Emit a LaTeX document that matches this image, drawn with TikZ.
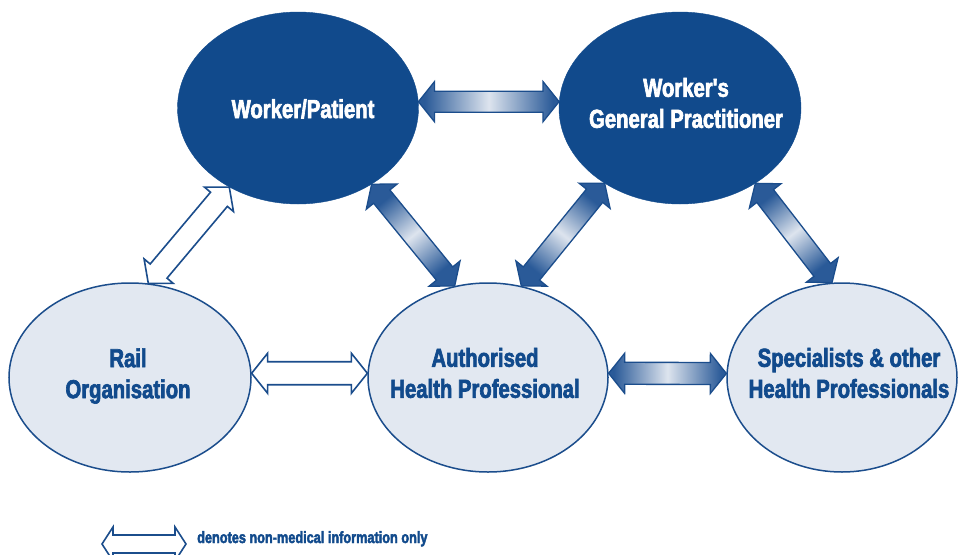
\documentclass[tikz,border=0pt]{standalone}
\usepackage{fontspec}
\newfontfamily\labelfont{Liberation Sans}[FakeStretch=0.78, FakeBold=2.5]
\usetikzlibrary{shapes.geometric,calc}

\definecolor{navy}{HTML}{114A8C}
\definecolor{paleblue}{HTML}{E2E8F1}
\definecolor{lineblue}{HTML}{1B4D8C}
\definecolor{arrowdark}{HTML}{2A5A98}
\definecolor{arrowlight}{HTML}{DDE4EE}

% gradient running along the arrow: dark heads, pale middle
\pgfdeclarehorizontalshading{arrowfill}{100bp}{color(0bp)=(arrowdark); color(27bp)=(arrowdark); color(50bp)=(arrowlight); color(73bp)=(arrowdark); color(100bp)=(arrowdark)}

\pgfdeclarelayer{paper}
\pgfdeclarelayer{arrows}
\pgfsetlayers{paper,arrows,main}

\tikzset{
  darkbubble/.style={ellipse, fill=navy, draw=navy, inner sep=0pt},
  lightbubble/.style={ellipse, fill=paleblue, draw=lineblue, line width=1.5pt, inner sep=0pt},
  bubbletext/.style={text=white, font=\labelfont\bfseries\fontsize{26}{31}\selectfont, align=center, inner sep=0pt},
  bubbletextdark/.style={bubbletext, text=navy},
  legendtext/.style={text=navy, font=\labelfont\bfseries\fontsize{16.3}{19}\selectfont, inner sep=0pt},
  medlink/.style={shading=arrowfill, shading angle=\linkang, draw=lineblue, line width=1.3pt, line join=miter},
  infolink/.style={fill=white, draw=lineblue, line width=1.6pt, line join=miter},
}

% double-headed block arrow between two points:
% [style]{from}{to}{head length}{head half-width}{shaft half-width}
\newcommand\linkarrow[6][]{%
  \pgfmathsetmacro\hdist{veclen(#4,#5)}%
  \pgfmathsetmacro\hang{atan2(#5,#4)}%
  \pgfmathsetmacro\sdist{veclen(#4,#6)}%
  \pgfmathsetmacro\sang{atan2(#6,#4)}%
  \path let \p1=($(#3)-(#2)$) in
    \pgfextra{\pgfmathsetmacro\tmpang{atan2(\y1,\x1)}\xdef\linkang{\tmpang}};%
  \draw[#1]
    (#2) -- ($(#2)!\hdist pt!\hang:(#3)$) -- ($(#2)!\sdist pt!\sang:(#3)$)
    -- ($(#3)!\sdist pt!-\sang:(#2)$) -- ($(#3)!\hdist pt!-\hang:(#2)$)
    -- (#3) -- ($(#3)!\hdist pt!\hang:(#2)$) -- ($(#3)!\sdist pt!\sang:(#2)$)
    -- ($(#2)!\sdist pt!-\sang:(#3)$) -- ($(#2)!\hdist pt!-\hang:(#3)$) -- cycle;%
}

\begin{document}
\begin{tikzpicture}[x=1pt, y=-1pt]
  \useasboundingbox (0,0) rectangle (958,554);
  \clip (0,0) rectangle (958,554);
  \begin{pgfonlayer}{paper}
    \fill[white] (0,0) rectangle (958,554);
  \end{pgfonlayer}

  % parties
  \node[darkbubble, minimum width=241pt, minimum height=192pt] (wp) at (298,108) {};
  \node[darkbubble, minimum width=242pt, minimum height=192pt] (gp) at (680,108) {};
  \node[lightbubble, minimum width=242pt, minimum height=189pt] (rail) at (130,377.5) {};
  \node[lightbubble, minimum width=240pt, minimum height=189pt] (ahp) at (488,377.5) {};
  \node[lightbubble, minimum width=230pt, minimum height=189pt] (spec) at (842,377.5) {};

  % names
  \node[bubbletext, anchor=base] (wpname) at (303,118) {Worker/Patient};
  \node[bubbletext] (gpname) at (686,103) {Worker's\\General Practitioner};
  \node[bubbletextdark] (railname) at (128,376) {Rail\\Organisation};
  \node[bubbletextdark] (ahpname) at (485,373) {Authorised\\Health Professional};
  \node[bubbletextdark] (specname) at (849,373) {Specialists \& other\\Health Professionals};

  % information flows
  \begin{pgfonlayer}{arrows}
    \linkarrow[medlink]{wp.3}{gp.177}{16}{20}{10.5}
    \linkarrow[infolink]{rail.79}{wp.229}{16}{19}{11}
    \linkarrow[medlink]{wp.-46}{ahp.110}{16}{20}{10.5}
    \linkarrow[medlink]{ahp.70}{gp.225}{16}{20}{10.5}
    \linkarrow[medlink]{gp.-45}{spec.96}{16}{20}{10.5}
    \linkarrow[infolink]{rail.2}{ahp.178}{16}{20}{11.5}
    \linkarrow[medlink]{ahp.2}{spec.178}{16}{20}{11}
  \end{pgfonlayer}

  % legend
  \coordinate (legl) at (102,544);
  \coordinate (legr) at (186,544);
  \linkarrow[infolink]{legl}{legr}{11}{17}{9}
  \node[legendtext, anchor=base west] (legend) at (197,543) {denotes non-medical information only};
\end{tikzpicture}
\end{document}
